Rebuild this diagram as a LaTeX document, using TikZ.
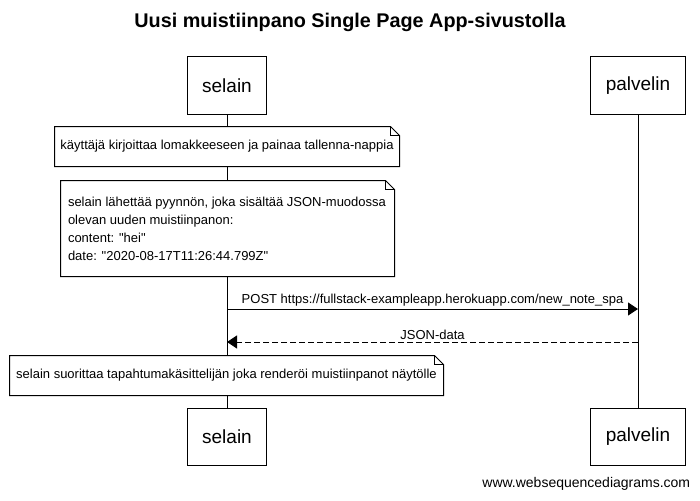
\documentclass[tikz,border=0pt]{standalone}
\usepackage{fontspec}
\setmainfont{Liberation Sans}
\usetikzlibrary{arrows.meta,calc}
\begin{document}
\begin{tikzpicture}[x=1pt,y=-1pt,line width=1pt,
  actor/.style={draw,fill=white,minimum height=57pt,inner xsep=15pt,inner ysep=0pt,font=\fontsize{19}{22}\selectfont},
  notebox/.style={fill=white,inner xsep=5pt,inner ysep=0pt,font=\fontsize{13}{18}\selectfont},
  notetext/.style={inner sep=0pt,align=left,font=\fontsize{13}{18}\selectfont},
  msg/.style={font=\fontsize{13}{15}\selectfont,inner sep=1pt},
  tip/.style={-{Triangle[length=10pt,width=13pt]}},
  lifeline/.style={line width=1pt}]
\useasboundingbox (0,0) rectangle (700,500);
\node[font=\bfseries\fontsize{19.8}{23}\selectfont] (title) at (350,22) {Uusi muistiinpano Single Page App-sivustolla};
\node[actor] (s1) at (227,85.5) {selain};
\node[actor] (p1) at (638,85.5) {palvelin};
\node[actor] (s2) at (227,437) {selain};
\node[actor] (p2) at (638,437) {palvelin};
\draw[lifeline] (s1) -- (s2);
\draw[lifeline] (p1) -- (p2);
\newcommand{\notefold}[1]{%
  \draw (#1.south west) -- (#1.north west) -- ($(#1.north east)+(-9,0)$) -- ($(#1.north east)+(0,9)$) -- (#1.south east) -- cycle;
  \draw ($(#1.north east)+(-9,0)$) -- ($(#1.north east)+(-9,9)$) -- ($(#1.north east)+(0,9)$);}
\node[notebox,minimum width=344pt,minimum height=39pt] (n1) at (227,146.5) {käyttäjä kirjoittaa lomakkeeseen ja painaa tallenna-nappia};
\notefold{n1}
\node[notebox,minimum width=333pt,minimum height=95pt] (n2) at (227.5,228.5) {};
\notefold{n2}
\node[notetext,anchor=west] (n2t) at ($(n2.west)+(7,0)$) {selain lähettää pyynnön, joka sisältää JSON-muodossa\\olevan uuden muistiinpanon:\\content: \textquotedbl hei\textquotedbl\\date: \textquotedbl 2020-08-17T11:26:44.799Z\textquotedbl};
\coordinate (a1s) at (s1.center |- 0,309);
\coordinate (a1e) at (p1.center |- 0,309);
\draw[tip] (a1s) -- node[msg,above=1pt] (l1) {POST https://fullstack-exampleapp.herokuapp.com/new\_note\_spa} (a1e);
\coordinate (a2s) at (p1.center |- 0,342);
\coordinate (a2e) at (s1.center |- 0,342);
\draw[tip,dash pattern=on 6pt off 3pt] (a2s) -- node[msg,above=1pt] (l2) {JSON-data} (a2e);
\node[notebox,minimum width=433pt,minimum height=39pt] (n3) at (226.5,375.5) {selain suorittaa tapahtumakäsittelijän joka renderöi muistiinpanot näytölle};
\notefold{n3}
\node[font=\fontsize{14}{16}\selectfont,anchor=east] (wm) at (694,484) {www.websequencediagrams.com};
\end{tikzpicture}
\end{document}
